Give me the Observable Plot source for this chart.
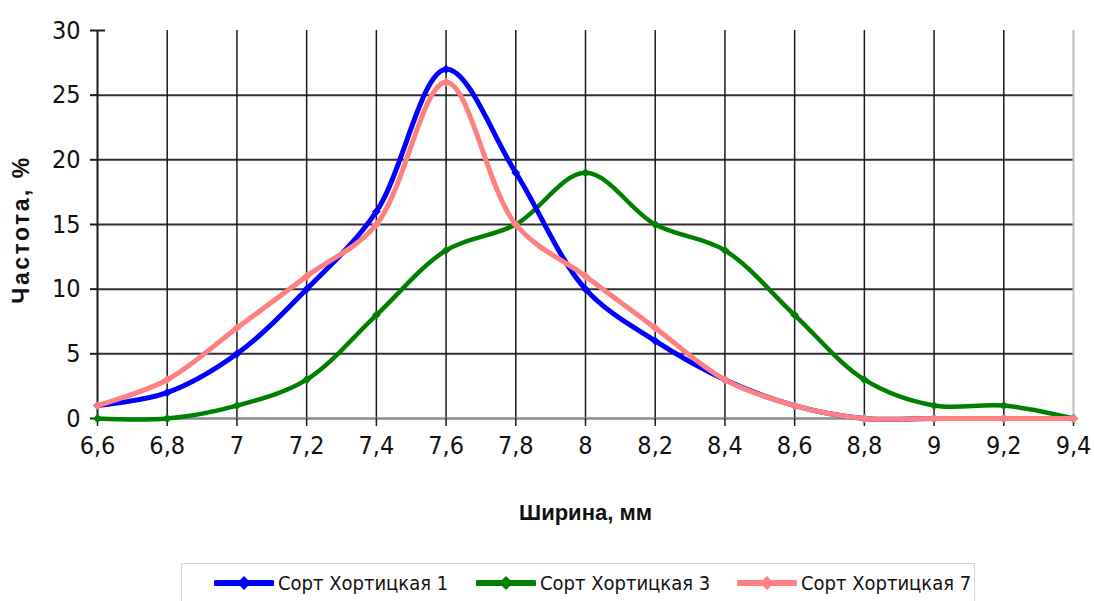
<!DOCTYPE html>
<html>
<head>
<meta charset="utf-8">
<script src="https://cdn.jsdelivr.net/npm/d3@7"></script>
<script src="https://cdn.jsdelivr.net/npm/@observablehq/plot@0.6"></script>
<style>
  html, body { margin: 0; padding: 0; background: #fff; }
  #wrap { position: relative; width: 1094px; height: 601px; overflow: hidden; }
  #legend { position: absolute; left: 181px; top: 563px; width: 794px; height: 50px;
            border: 1px solid #d4d4d4; box-sizing: border-box; background: #fff; }
  .item { position: absolute; top: 7px; display: flex; align-items: center; }
  .item span { font-family: 'Liberation Sans Narrow', 'Arial Narrow', 'DejaVu Sans Condensed', sans-serif;
               font-size: 20px; color: #111; margin-left: 4px; white-space: nowrap; }
</style>
</head>
<body>
<div id="wrap"><div id="chart"></div><div id="legend"></div></div>
<script>
const widths = [6.6, 6.8, 7, 7.2, 7.4, 7.6, 7.8, 8, 8.2, 8.4, 8.6, 8.8, 9, 9.2, 9.4];
const sort1 = [1, 2, 5, 10, 16, 27, 19, 10, 6, 3, 1, 0, 0, 0, 0];
const sort3 = [0, 0, 1, 3, 8, 13, 15, 19, 15, 13, 8, 3, 1, 1, 0];
const sort7 = [1, 3, 7, 11, 15, 26, 15, 11, 7, 3, 1, 0, 0, 0, 0];
const seriesNames = ["Сорт Хортицкая 1", "Сорт Хортицкая 3", "Сорт Хортицкая 7"];
const seriesColors = ["#0000ff", "#008000", "#ff8080"];
const yTicks = [0, 5, 10, 15, 20, 25, 30];
const xTitle = "Ширина, мм";
const yTitle = "Частота, %";

const narrow = "'Liberation Sans Narrow', 'Arial Narrow', 'DejaVu Sans Condensed', sans-serif";
const seriesValues = [sort1, sort3, sort7];
const series = seriesNames.map((name, k) => ({
  name, color: seriesColors[k],
  data: widths.map((w, i) => ({x: w, y: seriesValues[k][i]}))
}));
const fmt = d => String(d).replace(".", ",");
const xMin = widths[0], xMax = widths[widths.length - 1];
const yMax = yTicks[yTicks.length - 1];
// draw order: green, blue, pink
const order = [1, 0, 2];

const chart = Plot.plot({
  width: 1094,
  height: 560,
  marginTop: 30,
  marginBottom: 142,
  marginLeft: 97,
  marginRight: 21,
  style: {background: "#fff", color: "#111", fontFamily: narrow},
  x: {domain: [xMin, xMax], axis: null},
  y: {domain: [0, yMax], axis: null},
  marks: [
    Plot.ruleY(yTicks.filter(v => v > 0 && v < yMax), {x1: xMin, x2: xMax, stroke: "#303030", strokeWidth: 2}),
    Plot.ruleX(widths.slice(1, -1), {y1: 0, y2: yMax, stroke: "#1a1a1a", strokeWidth: 1.5}),
    Plot.ruleX([xMax], {y1: 0, y2: yMax, stroke: "#bdbdbd", strokeWidth: 2}),
    Plot.ruleY([0], {x1: xMin, x2: xMax, stroke: "#8a8a8a", strokeWidth: 2.5}),
    Plot.ruleX([xMin], {y1: 0, y2: yMax, stroke: "#1a1a1a", strokeWidth: 2}),
    Plot.ruleY([yMax], {x1: xMin, x2: xMin, insetRight: -8, stroke: "#1a1a1a", strokeWidth: 2}),
    Plot.axisX({ticks: widths, tickSize: 8, tickPadding: 10, tickFormat: fmt, fontSize: 25, stroke: "#1a1a1a", strokeWidth: 1.5, label: null}),
    Plot.axisY({ticks: yTicks, tickSize: 7, tickPadding: 10, fontSize: 25, stroke: "#1a1a1a", strokeWidth: 2, label: null}),
    ...order.flatMap(k => [
      Plot.line(series[k].data, {x: "x", y: "y", curve: "catmull-rom", stroke: series[k].color, strokeWidth: k === 1 ? 4.5 : 5}),
      Plot.dot(series[k].data, {x: "x", y: "y", symbol: "diamond2", r: 4, fill: series[k].color, stroke: "none"})
    ]),
    Plot.text([xTitle], {frameAnchor: "bottom", textAnchor: "middle", dy: 101, fontSize: 22, fontWeight: "bold", fontFamily: "'Liberation Sans', Arial, sans-serif", fill: "#111"}),
    Plot.text([yTitle], {frameAnchor: "left", textAnchor: "middle", dx: -76, dy: 5, rotate: -90, fontSize: 23, fontWeight: "bold", fontFamily: "'Liberation Sans', Arial, sans-serif", fill: "#111", className: "ytitle"})
  ]
});
document.getElementById("chart").appendChild(chart);
d3.select(chart).selectAll(".ytitle text").style("letter-spacing", "2.5px");

// legend
const legend = document.getElementById("legend");
const lefts = [32, 294, 555];
series.forEach((s, k) => {
  const item = document.createElement("div");
  item.className = "item";
  item.style.left = lefts[k] + "px";
  const ns = "http://www.w3.org/2000/svg";
  const svg = document.createElementNS(ns, "svg");
  svg.setAttribute("width", 60); svg.setAttribute("height", 24);
  const ln = document.createElementNS(ns, "line");
  ln.setAttribute("x1", 2); ln.setAttribute("x2", 58); ln.setAttribute("y1", 12); ln.setAttribute("y2", 12);
  ln.setAttribute("stroke", s.color); ln.setAttribute("stroke-width", 6); ln.setAttribute("stroke-linecap", "round");
  const dm = document.createElementNS(ns, "path");
  dm.setAttribute("d", "M30,5 L37,12 L30,19 L23,12 Z");
  dm.setAttribute("fill", s.color);
  svg.appendChild(ln); svg.appendChild(dm);
  const sp = document.createElement("span");
  sp.textContent = s.name;
  item.appendChild(svg); item.appendChild(sp);
  legend.appendChild(item);
});
</script>
</body>
</html>
